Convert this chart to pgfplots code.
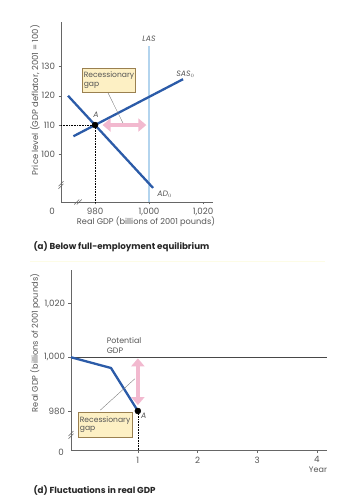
\documentclass[border=0pt]{standalone}
\usepackage{pgfplots}
\pgfplotsset{compat=1.18}
\usepackage{fontspec}
\setmainfont{Poppins}
\usetikzlibrary{arrows.meta}
\definecolor{adblue}{HTML}{2B5BA8}
\definecolor{lasblue}{HTML}{B3D4EE}
\definecolor{gappink}{HTML}{F2B9CF}
\definecolor{boxfill}{HTML}{FDF0C4}
\definecolor{boxdraw}{HTML}{9A8050}
\definecolor{axgray}{HTML}{666666}
\definecolor{txtgray}{HTML}{555555}
\pgfplotsset{myax/.style={scale only axis, axis lines=left,
  axis line style={-, axgray, line width=0.7pt},
  tick style={axgray, line width=0.5pt}, major tick length=2.5pt, tick align=outside,
  tick label style={font=\fontsize{8.7}{9}\selectfont, text=txtgray},
  /pgf/number format/assume math mode=true, clip=false}}
\begin{document}
\begin{tikzpicture}[x=1pt,y=1pt]
\useasboundingbox (0,0) rectangle (351,499);
% ---------- top panel ----------
\begin{axis}[myax, at={(61pt,297pt)}, anchor=south west, width=152pt, height=180pt,
  xmin=967.4, xmax=1023.7, ymin=83.7, ymax=145.2,
  xtick={980,1000,1020}, xticklabels={980,{1,000},{1,020}},
  ytick={100,110,120,130}]
\addplot[lasblue, line width=2pt] coordinates {(1000,83.7) (1000,137)};
\addplot[adblue, line width=2.3pt] coordinates {(972,106.16) (1012.6,125.65)};
\addplot[adblue, line width=2.3pt] coordinates {(970,120) (1001.5,88.5)};
\addplot[black, densely dotted, line width=0.6pt] coordinates {(967.4,110) (980,110)};
\addplot[black, densely dotted, line width=0.6pt] coordinates {(980,110) (980,83.7)};
\draw[gray, line width=0.4pt] (axis cs:984.8,121) -- (axis cs:990.4,110.6);
\addplot[gappink, line width=4.5pt, {Triangle[width=13pt,length=8pt]}-{Triangle[width=13pt,length=8pt]}] coordinates {(982.8,110) (999,110)};
\addplot[black, only marks, mark=*, mark size=3pt] coordinates {(980,110)};
\node[draw=boxdraw, fill=boxfill, align=left, anchor=north west, inner sep=1.5pt,
  font=\fontsize{7.6}{8.6}\selectfont, text=txtgray, minimum width=52pt, minimum height=24pt]
  at (axis cs:975.2,129.5) {Recessionary\\gap};
\node[font=\fontsize{7.8}{8}\selectfont\itshape, text=txtgray] at (axis cs:1000,139.6) {LAS};
\node[font=\fontsize{7.8}{8}\selectfont\itshape, text=txtgray] at (axis cs:1013.5,127.3) {SAS$_0$};
\node[font=\fontsize{7.8}{8}\selectfont\itshape, text=txtgray, anchor=west] at (axis cs:1001.8,86.3) {AD$_0$};
\node[font=\fontsize{7.8}{8}\selectfont\itshape, text=txtgray] at (axis cs:980.4,113.4) {A};
% breaks
\draw[axgray, line width=0.5pt] ([shift={(-2.5pt,-3.8pt)}]axis cs:967.4,89.5) -- ++(5pt,5pt);
\draw[axgray, line width=0.5pt] ([shift={(-2.5pt,-1.2pt)}]axis cs:967.4,89.5) -- ++(5pt,5pt);
\draw[axgray, line width=0.5pt] ([shift={(-3.8pt,-2.5pt)}]axis cs:973.7,83.7) -- ++(5pt,5pt);
\draw[axgray, line width=0.5pt] ([shift={(-1.2pt,-2.5pt)}]axis cs:973.7,83.7) -- ++(5pt,5pt);
\end{axis}
\node[font=\fontsize{8.7}{9}\selectfont, text=txtgray] at (52,288) {0};
\node[font=\fontsize{8.2}{9}\selectfont, text=txtgray] at (146,277) {Real GDP (billions of 2001 pounds)};
\node[font=\fontsize{8.4}{9}\selectfont, text=txtgray, rotate=90] at (35,399) {Price level (GDP deflator, 2001 = 100)};
\node[font=\fontsize{8.7}{9}\selectfont\bfseries, text=black!85, anchor=base west] at (30,249) {(a) Below full-employment equilibrium};
\draw[black!10!yellow!10!white, line width=0.6pt] (30,238) -- (325,238);
% ---------- bottom panel ----------
\begin{axis}[myax, at={(71pt,48.3pt)}, anchor=south west, width=256pt, height=180.7pt,
  xmin=-0.12, xmax=4.168, ymin=965.2, ymax=1032.5,
  xtick={1,2,3,4}, ytick={980,1000,1020}, yticklabels={980,{1,000},{1,020}}]
\addplot[axgray!70!black, line width=1pt] coordinates {(-0.12,1000) (4.168,1000)};
\addplot[adblue, line width=2.3pt] coordinates {(-0.12,1000) (0.55,996) (1,980)};
\addplot[black, densely dotted, line width=0.6pt] coordinates {(1,980) (1,965.2)};
\draw[gray, line width=0.4pt] (axis cs:0.37,980.3) -- (axis cs:0.95,992);
\addplot[gappink, line width=4.5pt, {Triangle[width=13pt,length=8pt]}-{Triangle[width=13pt,length=8pt]}] coordinates {(1,999.6) (1,982.2)};
\addplot[black, only marks, mark=*, mark size=3pt] coordinates {(1,980)};
\node[draw=boxdraw, fill=boxfill, align=left, anchor=north west, inner sep=1.5pt,
  font=\fontsize{7.6}{8.6}\selectfont, text=txtgray, minimum width=53pt, minimum height=25pt]
  at (axis cs:0,979.7) {Recessionary\\gap};
\node[font=\fontsize{7.8}{8}\selectfont\itshape, text=txtgray] at (axis cs:1.1,978.2) {A};
\node[font=\fontsize{7.9}{9.5}\selectfont, text=txtgray, align=left, anchor=north west] at (axis cs:0.42,1008.6) {Potential\\GDP};
\draw[axgray, line width=0.5pt] ([shift={(-2.5pt,-3.8pt)}]axis cs:-0.12,971.1) -- ++(5pt,5pt);
\draw[axgray, line width=0.5pt] ([shift={(-2.5pt,-1.2pt)}]axis cs:-0.12,971.1) -- ++(5pt,5pt);
\end{axis}
\node[font=\fontsize{8.7}{9}\selectfont, text=txtgray] at (61,47) {0};
\node[font=\fontsize{8}{9}\selectfont, text=txtgray] at (318,29) {Year};
\node[font=\fontsize{8.2}{9}\selectfont, text=txtgray, rotate=90] at (35,156) {Real GDP (billions of 2001 pounds)};
\node[font=\fontsize{8.7}{9}\selectfont\bfseries, text=black!85, anchor=base west] at (30,5.5) {(d) Fluctuations in real GDP};
\end{tikzpicture}
\end{document}
